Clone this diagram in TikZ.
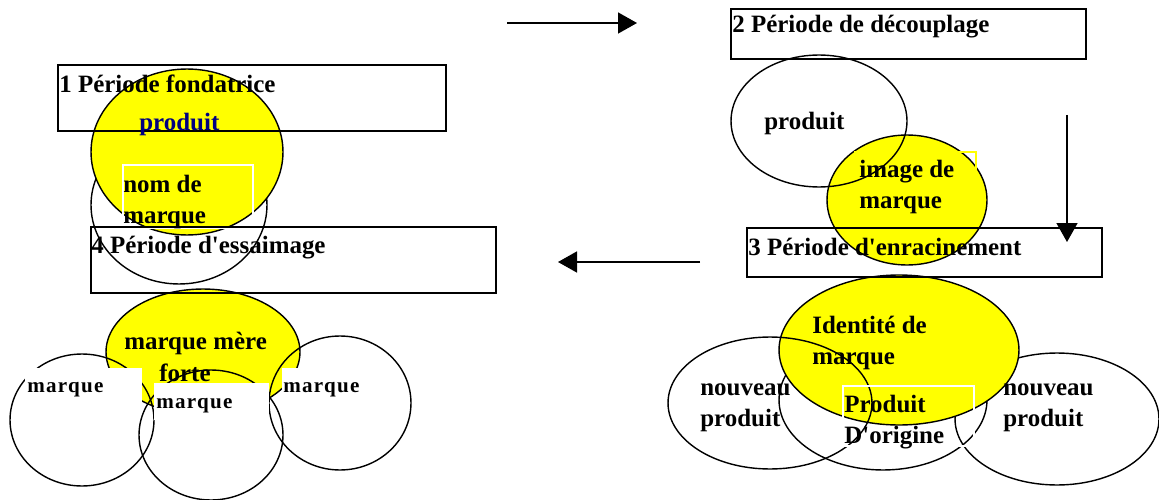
\documentclass[tikz,border=0pt]{standalone}
\usepackage{fontspec}
\setmainfont{Liberation Serif}
\newfontfamily\espace[LetterSpace=6]{Liberation Serif}
\usetikzlibrary{shapes.geometric,arrows.meta}
\definecolor{bleufonce}{HTML}{000080}
\definecolor{jaune}{RGB}{255,255,0}

\begin{document}
\begin{tikzpicture}[x=0.02cm, y=-0.02cm,
  font=\fontsize{14.2}{17.6}\selectfont\bfseries,
  bulle/.style 2 args={ellipse, draw, line width=0.8pt, inner sep=0pt, minimum width=#1, minimum height=#2},
  cadre/.style 2 args={rectangle, draw, line width=1pt, inner sep=0pt, minimum width=#1, minimum height=#2},
  masque/.style 2 args={rectangle, fill=white, inner sep=0pt, minimum width=#1, minimum height=#2},
  texte/.style={anchor=base west, inner sep=0pt, align=left},
  petit/.style={texte, font=\fontsize{12}{14}\selectfont\espace\bfseries},
  fleche/.style={-{Triangle[length=3.8mm, width=4.2mm]}, line width=0.9pt}
]
  \useasboundingbox (0,0) rectangle (1159,500);

  % 1 Periode fondatrice
  \node[bulle={3.52cm}{3.16cm}] (nomMarque) at (179,205) {};
  \node[bulle={3.84cm}{3.32cm}, fill=jaune] (produitF) at (187,152) {};
  \node[cadre={2.6cm}{1.26cm}, draw=white, line width=0.6pt] (cadreNom) at (188,196.5) {};
  \node[cadre={7.76cm}{1.32cm}] (boite1) at (252,98) {};
  \node[texte] (titre1) at (59,92) {1 Période fondatrice};
  \node[texte, text=bleufonce] (txtProduitF) at (139,131) {produit};
  \node[texte] (txtNom) at (123,223) {nom de\\marque};

  % 4 Periode d'essaimage
  \node[bulle={3.88cm}{2.52cm}, fill=jaune] (mere) at (203,352) {};
  \node[bulle={2.88cm}{2.64cm}] (marqueG) at (82,420) {};
  \node[bulle={2.88cm}{2.6cm}] (marqueM) at (211,435) {};
  \node[bulle={2.84cm}{2.68cm}] (marqueD) at (340,403) {};
  \node[masque={2.34cm}{0.74cm}] (masqueG) at (83.5,386.5) {};
  \node[masque={2.3cm}{0.74cm}] (masqueM) at (211.5,401.5) {};
  \node[masque={1.86cm}{0.74cm}] (masqueD) at (328.5,386.5) {};
  \node[cadre={8.1cm}{1.32cm}] (boite4) at (293.5,260) {};
  \node[texte] (titre4) at (91,253) {4 Période d\textquotesingle{}essaimage};
  \node[texte] (txtMere) at (124,349) {marque mère};
  \node[texte] (txtForte) at (159,381) {forte};
  \node[petit] (txtMarqueG) at (27,392) {marque};
  \node[petit] (txtMarqueM) at (156,408) {marque};
  \node[petit] (txtMarqueD) at (283,392) {marque};

  % 2 Periode de decouplage
  \node[bulle={3.2cm}{2.6cm}, fill=jaune] (image) at (907,200) {};
  \node[cadre={2.42cm}{1.26cm}, draw=jaune, line width=0.6pt] (cadreImage) at (915.5,183.5) {};
  \node[bulle={3.52cm}{2.64cm}] (produitD) at (819,121) {};
  \node[cadre={7.1cm}{1.0cm}] (boite2) at (908.5,34) {};
  \node[texte] (titre2) at (732,33) {2 Période de découplage};
  \node[texte] (txtProduitD) at (764,130) {produit};
  \node[texte] (txtImage) at (859,208) {image de\\marque};

  % 3 Periode d'enracinement
  \node[bulle={4.08cm}{2.64cm}] (nouveauD) at (1057,419) {};
  \node[bulle={4.16cm}{2.8cm}] (origine) at (883,400) {};
  \node[bulle={4.8cm}{3.0cm}, fill=jaune] (identite) at (899,350) {};
  \node[bulle={4.08cm}{2.64cm}] (nouveauG) at (770,403) {};
  \node[cadre={2.62cm}{1.2cm}, draw=white, line width=0.6pt] (cadreOrigine) at (908.5,416) {};
  \node[cadre={7.1cm}{0.98cm}] (boite3) at (924.5,252.5) {};
  \node[texte] (titre3) at (748,255) {3 Période d\textquotesingle{}enracinement};
  \node[texte] (txtIdentite) at (812,364) {Identité de\\marque};
  \node[texte] (txtNouveauG) at (700,426) {nouveau\\produit};
  \node[texte] (txtNouveauD) at (1003,426) {nouveau\\produit};
  \node[texte] (txtOrigine) at (844,443) {Produit\\D\textquotesingle{}origine};

  % fleches entre les periodes
  \coordinate (dep1) at (507,23);
  \coordinate (arr1) at (637,23);
  \coordinate (dep2) at (1067,115);
  \coordinate (arr2) at (1067,242);
  \coordinate (dep3) at (700,262);
  \coordinate (arr3) at (558,262);
  \draw[fleche] (dep1) -- (arr1);
  \draw[fleche] (dep2) -- (arr2);
  \draw[fleche] (dep3) -- (arr3);
\end{tikzpicture}
\end{document}
